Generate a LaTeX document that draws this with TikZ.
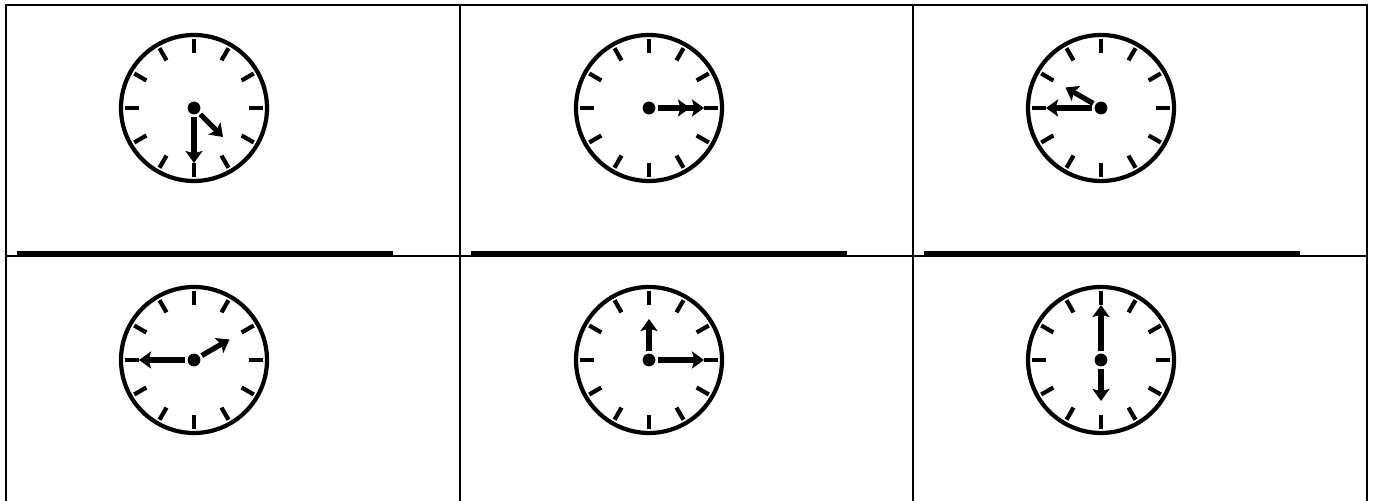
\documentclass[tikz,border=0pt]{standalone}
\usetikzlibrary{arrows.meta}

\begin{document}
\begin{tikzpicture}[
    x=0.5pt, y=0.5pt,
    % Table styles
    rule/.style={draw, line width=1.25pt},
    answer/.style={draw, line width=1.8pt},
    % Clock styles
    face/.style={
        draw, circle, line width=2.1pt, minimum size=73pt, inner sep=0pt
    },
    tick/.style={draw, line width=2.1pt},
    hub/.style={fill, circle, minimum size=6.4pt, inner sep=0pt},
    % Hand style
    hand/.style={-{Stealth[length=6pt, width=8.5pt, inset=1.2pt]}, line width=2.6pt},
]

\useasboundingbox (0,0) rectangle (1374,501);

% ===== TABLE =====

% Outer frame and cell borders
\draw[rule] (6,0) -- (6,496) -- (1367,496) -- (1367,0);
\draw[rule] (460,0) -- (460,496);
\draw[rule] (913,0) -- (913,496);
\draw[rule] (6,245) -- (1367,245);

% Answer lines in the top row
\draw[answer] (17,248) -- (393,248);
\draw[answer] (471,248) -- (847,248);
\draw[answer] (924,248) -- (1300,248);

% ===== TOP ROW =====

% Clock 1: half past four
\node[face] (c1-face) at (194,393) {};
\foreach \a in {0,30,...,330}
    \draw[tick] (c1-face.center) ++(\a:55) -- ++(\a:14);
\draw[hand] (c1-face.center) ++(-90:9) -- ++(-90:46);
\draw[hand] (c1-face.center) ++(-45:9) -- ++(-45:32);
\node[hub] (c1-hub) at (c1-face.center) {};

% Clock 2: quarter past three
\node[face] (c2-face) at (649,393) {};
\foreach \a in {0,30,...,330}
    \draw[tick] (c2-face.center) ++(\a:55) -- ++(\a:14);
\draw[hand] (c2-face.center) ++(0:9) -- ++(0:46);
\draw[hand] (c2-face.center) ++(0:9) -- ++(0:32);
\node[hub] (c2-hub) at (c2-face.center) {};

% Clock 3: quarter to ten
\node[face] (c3-face) at (1101,393) {};
\foreach \a in {0,30,...,330}
    \draw[tick] (c3-face.center) ++(\a:55) -- ++(\a:14);
\draw[hand] (c3-face.center) ++(180:9) -- ++(180:46);
\draw[hand] (c3-face.center) ++(150:9) -- ++(150:32);
\node[hub] (c3-hub) at (c3-face.center) {};

% ===== BOTTOM ROW =====

% Clock 4: quarter to two
\node[face] (c4-face) at (194,141) {};
\foreach \a in {0,30,...,330}
    \draw[tick] (c4-face.center) ++(\a:55) -- ++(\a:14);
\draw[hand] (c4-face.center) ++(180:9) -- ++(180:46);
\draw[hand] (c4-face.center) ++(30:9) -- ++(30:32);
\node[hub] (c4-hub) at (c4-face.center) {};

% Clock 5: quarter past twelve
\node[face] (c5-face) at (649,141) {};
\foreach \a in {0,30,...,330}
    \draw[tick] (c5-face.center) ++(\a:55) -- ++(\a:14);
\draw[hand] (c5-face.center) ++(0:9) -- ++(0:46);
\draw[hand] (c5-face.center) ++(90:9) -- ++(90:32);
\node[hub] (c5-hub) at (c5-face.center) {};

% Clock 6: six o'clock
\node[face] (c6-face) at (1101,141) {};
\foreach \a in {0,30,...,330}
    \draw[tick] (c6-face.center) ++(\a:55) -- ++(\a:14);
\draw[hand] (c6-face.center) ++(90:9) -- ++(90:46);
\draw[hand] (c6-face.center) ++(-90:9) -- ++(-90:32);
\node[hub] (c6-hub) at (c6-face.center) {};

\end{tikzpicture}
\end{document}
